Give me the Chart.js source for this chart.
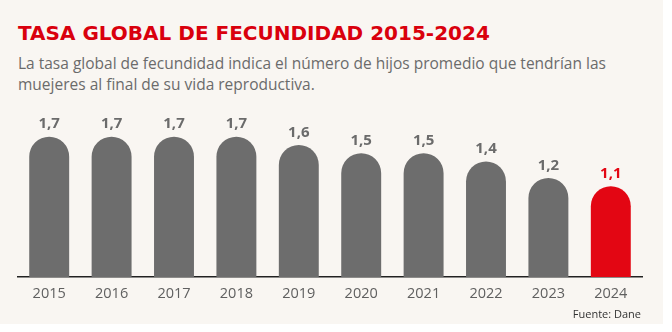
<!DOCTYPE html>
<html>
<head>
<meta charset="utf-8">
<script src="https://cdn.jsdelivr.net/npm/chart.js@4"></script>
<style>
  html, body { margin: 0; padding: 0; background: #ffffff; }
  .panel {
    position: relative;
    width: 663px;
    height: 324px;
    background: #f9f6f2;
    font-family: "Open Sans", sans-serif;
  }
  .titulo {
    position: absolute;
    left: 18px;
    top: 21px;
    margin: 0;
    font-family: "DejaVu Sans", sans-serif;
    font-size: 20px;
    line-height: 24px;
    font-weight: 700;
    color: #d9000d;
    white-space: nowrap;
  }
  .bajada {
    position: absolute;
    left: 18px;
    top: 53px;
    margin: 0;
    width: 640px;
    font-size: 15.5px;
    line-height: 21px;
    color: #6b6b6b;
  }
  .fuente {
    position: absolute;
    right: 22px;
    top: 306px;
    font-size: 11px;
    color: #333333;
  }
  #grafico { position: absolute; left: 0; top: 0; }
</style>
</head>
<body>
<div class="panel">
  <h1 class="titulo">TASA GLOBAL DE FECUNDIDAD 2015-2024</h1>
  <p class="bajada">La tasa global de fecundidad indica el número de hijos promedio que tendrían las<br>muejeres al final de su vida reproductiva.</p>
  <canvas id="grafico" width="663" height="324"></canvas>
  <div class="fuente">Fuente: Dane</div>
</div>
<script>
// años y tasa global de fecundidad (hijos por mujer)
var anios = ['2015', '2016', '2017', '2018', '2019', '2020', '2021', '2022', '2023', '2024'];
var tasa = [1.7, 1.7, 1.7, 1.7, 1.6, 1.5, 1.5, 1.4, 1.2, 1.1];

var gris = '#6d6d6d';
var rojo = '#e30613';
var colores = anios.map(function (a, i) { return i === anios.length - 1 ? rojo : gris; });

// escribe el valor encima de cada barra, con coma decimal
var etiquetas = {
    id: 'etiquetas',
    afterDatasetsDraw: function (chart) {
        var ctx = chart.ctx;
        var meta = chart.getDatasetMeta(0);
        ctx.save();
        ctx.font = '700 15px "Open Sans", sans-serif';
        ctx.textAlign = 'center';
        ctx.textBaseline = 'alphabetic';
        meta.data.forEach(function (barra, i) {
            ctx.fillStyle = i === meta.data.length - 1 ? rojo : '#6b6b6b';
            ctx.fillText(tasa[i].toFixed(1).replace('.', ','), barra.x, barra.y - 8.5);
        });
        ctx.restore();
    }
};

var ctx = document.getElementById('grafico');
var grafico = new Chart(ctx, {
    type: 'bar',
    data: {
        labels: anios,
        datasets: [{
            data: tasa,
            backgroundColor: colores,
            borderRadius: { topLeft: 20, topRight: 20, bottomLeft: 0, bottomRight: 0 },
            borderSkipped: 'start',
            categoryPercentage: 1,
            barPercentage: 0.64
        }]
    },
    options: {
        responsive: false,
        animation: false,
        layout: { padding: { left: 18, right: 21, top: 112, bottom: 17 } },
        plugins: {
            legend: { display: false },
            tooltip: { enabled: false }
        },
        scales: {
            x: {
                grid: { display: false, drawTicks: false },
                border: { display: true, color: '#222222', width: 1.5 },
                ticks: {
                    color: '#606060',
                    padding: 8,
                    font: { family: '"Open Sans"', size: 14.5 }
                },
                afterFit: function (s) { s.height = 30; }
            },
            y: {
                display: false,
                min: 0,
                max: 2
            }
        }
    },
    plugins: [etiquetas]
});
</script>
</body>
</html>
